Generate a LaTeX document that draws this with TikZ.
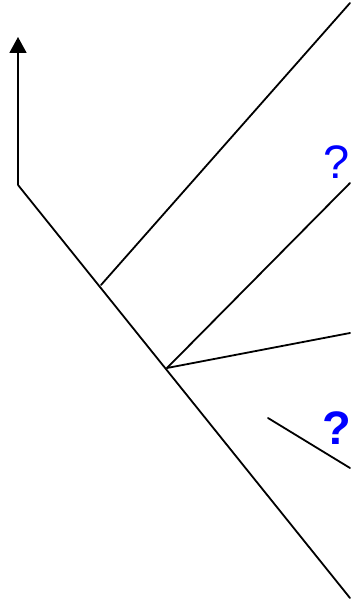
\documentclass[tikz,border=0pt]{standalone}
\usepackage{fontspec}
\setmainfont{Liberation Sans}
\usetikzlibrary{arrows.meta}
\begin{document}
\begin{tikzpicture}[x=1pt, y=-1pt,
    branch/.style={line width=1.8pt, line cap=round},
    axis/.style={line width=1.8pt, -{Triangle[width=17pt, length=16pt]}},
    query/.style={text=blue, inner sep=0pt, font=\fontsize{47}{47}\selectfont}]
    \useasboundingbox (0,0) rectangle (352,599);
    % tree points
    \coordinate (root) at (18,185);
    \coordinate (top) at (18,37);
    \coordinate (j1) at (101,285);
    \coordinate (j2) at (167,368);
    \coordinate (leafA) at (350,3);
    \coordinate (leafB) at (350,183);
    \coordinate (leafC) at (350,333);
    \coordinate (stubS) at (268,418);
    \coordinate (leafD) at (350,468);
    \coordinate (leafE) at (350,598);
    \draw [axis] (root) -- (top);
    \draw [branch] (root) -- (leafE);
    \draw [branch] (j1) -- (leafA);
    \draw [branch] (j2) -- (leafB);
    \draw [branch] (j2) -- (leafC);
    \draw [branch] (stubS) -- (leafD);
    \node [query] (qa) at (336.5,162) {?};
    \node [query, font=\fontsize{47}{47}\selectfont\bfseries] (qb) at (337,428) {?};
\end{tikzpicture}
\end{document}
